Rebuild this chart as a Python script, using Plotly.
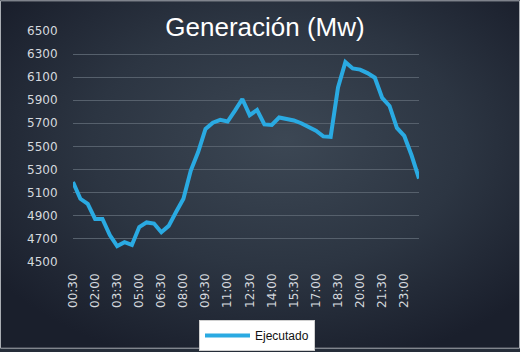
import base64
import plotly.graph_objects as go

times = ["00:30", "01:00", "01:30", "02:00", "02:30", "03:00", "03:30", "04:00",
         "04:30", "05:00", "05:30", "06:00", "06:30", "07:00", "07:30", "08:00",
         "08:30", "09:00", "09:30", "10:00", "10:30", "11:00", "11:30", "12:00",
         "12:30", "13:00", "13:30", "14:00", "14:30", "15:00", "15:30", "16:00",
         "16:30", "17:00", "17:30", "18:00", "18:30", "19:00", "19:30", "20:00",
         "20:30", "21:00", "21:30", "22:00", "22:30", "23:00", "23:30", "24:00"]
ejecutado = [5190, 5045, 5000, 4870, 4870, 4730, 4635, 4668, 4645, 4800, 4840, 4830,
             4755, 4810, 4930, 5045, 5290, 5450, 5650, 5705, 5730, 5715, 5810, 5910,
             5770, 5815, 5690, 5685, 5750, 5735, 5724, 5700, 5665, 5635, 5586, 5582,
             6010, 6230, 6175, 6165, 6135, 6095, 5920, 5850, 5660, 5590, 5420, 5220]
tick_labels = times[::3]
y_ticks = list(range(4500, 6501, 200))

W, H = 520, 352
L, R, T, B = 73, 101, 31, 88
pw, ph = W - L - R, H - T - B

svg = (
    f'<svg xmlns="http://www.w3.org/2000/svg" width="{W}" height="{H}" preserveAspectRatio="none">'
    '<defs><radialGradient id="g" cx="52%" cy="42%" r="65%" fx="55%" fy="40%">'
    '<stop offset="0%" stop-color="#3c4754"/>'
    '<stop offset="55%" stop-color="#2c3542"/>'
    '<stop offset="100%" stop-color="#1a1f2c"/>'
    '</radialGradient></defs>'
    f'<rect x="0" y="0" width="{W}" height="{H}" fill="url(#g)"/></svg>'
)
bg_src = "data:image/svg+xml;base64," + base64.b64encode(svg.encode()).decode()

tick_font = dict(family="DejaVu Sans", size=12, color="#d5d9de")

fig = go.Figure()
fig.add_trace(go.Scatter(
    x=times, y=ejecutado, mode="lines", name="Ejecutado",
    line=dict(color="#2aaae2", width=4),
))

fig.update_layout(
    width=W, height=H,
    margin=dict(l=L, r=R, t=T, b=B),
    paper_bgcolor="#252d39",
    plot_bgcolor="rgba(0,0,0,0)",
    title=dict(text="Generación (Mw)", x=265 / W, xanchor="center", y=1 - 27 / H, yanchor="middle",
               font=dict(family="Liberation Sans, Arial", size=26, color="#ffffff")),
    xaxis=dict(
        type="category", range=[0, len(times) - 1],
        tickmode="array", tickvals=tick_labels, ticktext=tick_labels,
        tickangle=-90, showgrid=False, zeroline=False, showline=False,
        ticks="outside", ticklen=6, tickcolor="rgba(0,0,0,0)",
        tickfont=tick_font,
    ),
    yaxis=dict(
        range=[4500, 6500], tickmode="array", tickvals=y_ticks,
        showgrid=True, gridcolor="#56606c", gridwidth=1, zeroline=False, showline=False,
        ticks="outside", ticklen=12, tickcolor="rgba(0,0,0,0)",
        tickfont=tick_font,
    ),
    showlegend=True,
    legend=dict(
        xref="container", yref="container", x=257 / W, xanchor="center",
        y=1 - 320 / H, yanchor="top", orientation="h",
        bgcolor="#ffffff", bordercolor="#d0d0d0", borderwidth=1,
        font=dict(family="Liberation Sans, Arial", size=12, color="#111111"),
        itemwidth=45,
    ),
    images=[dict(source=bg_src, xref="paper", yref="paper",
                 x=-L / pw, y=1 + T / ph, sizex=W / pw, sizey=H / ph,
                 xanchor="left", yanchor="top", sizing="stretch", layer="below")],
    shapes=[dict(type="rect", xref="paper", yref="paper",
                 x0=(-L + 0.5) / pw, x1=(W - L - 0.5) / pw,
                 y0=1 + (T - 0.5) / ph, y1=-(B - 0.5) / ph,
                 line=dict(color="#a9adb3", width=1), layer="above")],
)

fig.write_html("out.html")
